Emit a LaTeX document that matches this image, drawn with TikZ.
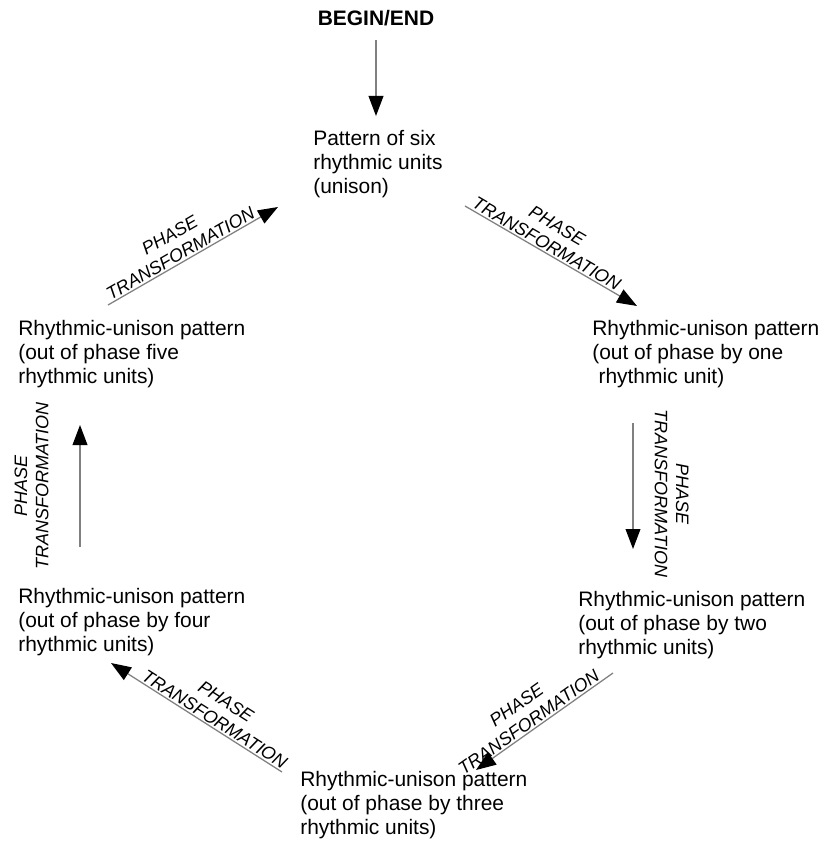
\documentclass[tikz,border=0pt]{standalone}
\usepackage{fontspec}
\setmainfont{Liberation Sans}
\usetikzlibrary{arrows.meta}

\begin{document}
\begin{tikzpicture}[
    x=0.025cm, y=-0.025cm,
    state/.style={anchor=north west, inner sep=0pt, align=left, font=\fontsize{14.9}{17}\selectfont},
    arr/.style={draw=gray, line width=0.9pt, -{Triangle[length=0.5cm, width=0.37cm, color=black]}},
    tlabel/.style={sloped, above, align=center, inner sep=1pt, font=\fontsize{12.8}{15}\selectfont\itshape}
]
\useasboundingbox (0,0) rectangle (824,843);

% Start
\node[anchor=north, inner sep=0pt, font=\fontsize{14.9}{17}\selectfont\bfseries] (beginend) at (376,10) {BEGIN/END};

% States of the cycle
\node[state] (unison) at (313,130) {Pattern of six\\rhythmic units\\(unison)};
\node[state] (one) at (592,320) {Rhythmic-unison pattern\\(out of phase by one\\\hspace{0.3em}rhythmic unit)};
\node[state] (two) at (578,591) {Rhythmic-unison pattern\\(out of phase by two\\rhythmic units)};
\node[state] (three) at (300,771) {Rhythmic-unison pattern\\(out of phase by three\\rhythmic units)};
\node[state] (four) at (18,588) {Rhythmic-unison pattern\\(out of phase by four\\rhythmic units)};
\node[state] (five) at (18,320) {Rhythmic-unison pattern\\(out of phase five\\rhythmic units)};

% Entry arrow
\draw[arr] ([shift={(0,30)}]beginend.north) -- ([shift={(63,-14)}]unison.north west);

% Phase transformations
\draw[arr] ([shift={(152,76)}]unison.north west) -- ([shift={(45,-14)}]one.north west)
    node[tlabel, pos=0.45] (t1) {PHASE\\TRANSFORMATION};
\draw[arr] ([shift={(41,103)}]one.north west) -- ([shift={(55,-42)}]two.north west)
    node[tlabel, pos=0.56, inner ysep=15pt] (t2) {PHASE\\TRANSFORMATION};
\draw[arr] ([shift={(35,82)}]two.north west) -- ([shift={(176,-1)}]three.north west)
    node[tlabel, pos=0.58] (t3) {PHASE\\TRANSFORMATION};
\draw[arr] ([shift={(-18,1)}]three.north west) -- ([shift={(93,75)}]four.north west)
    node[tlabel, pos=0.42] (t4) {PHASE\\TRANSFORMATION};
\draw[arr] ([shift={(62,-41)}]four.north west) -- ([shift={(62,105)}]five.north west)
    node[tlabel, pos=0.5, inner ysep=22pt] (t5) {PHASE\\TRANSFORMATION};
\draw[arr] ([shift={(90,-15)}]five.north west) -- ([shift={(-35,77)}]unison.north west)
    node[tlabel, pos=0.45] (t6) {PHASE\\TRANSFORMATION};

\end{tikzpicture}
\end{document}
